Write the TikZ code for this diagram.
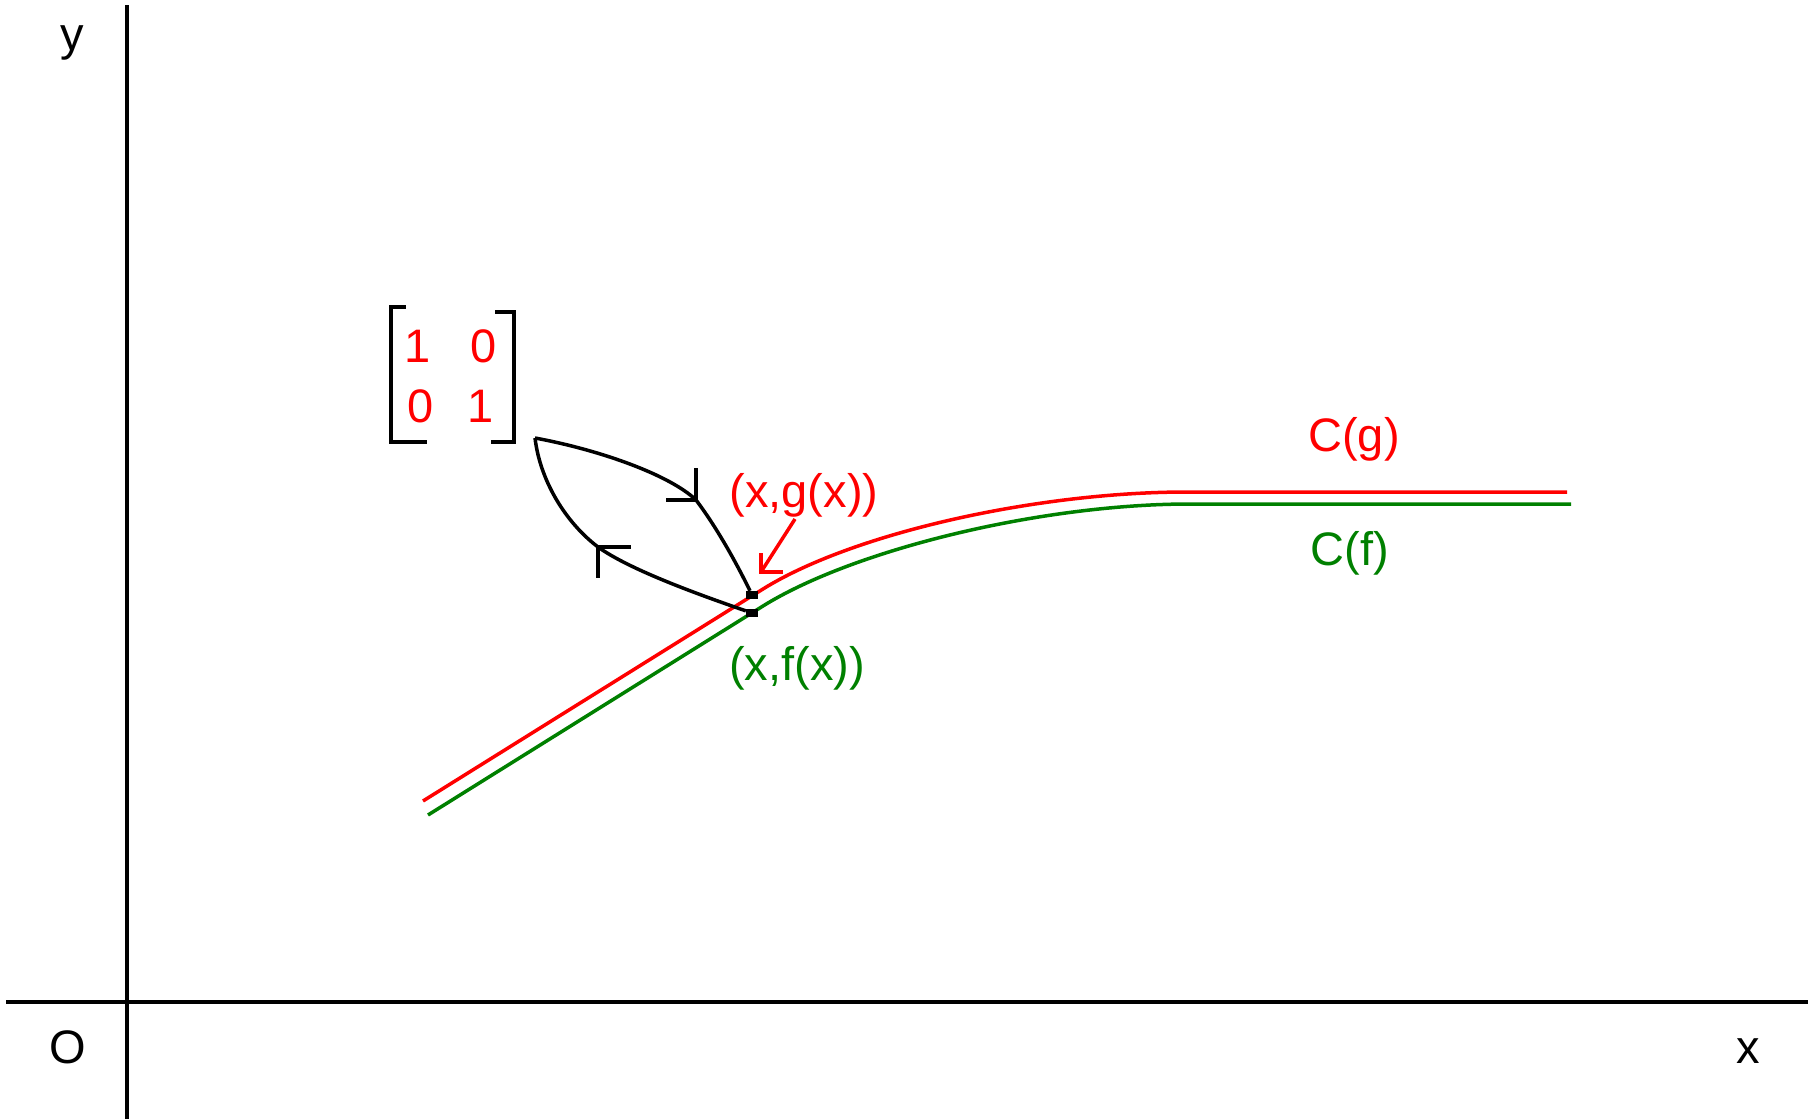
\documentclass[tikz,border=0pt]{standalone}
\usepackage{fontspec}
\setmainfont{Liberation Sans}
\definecolor{fgreen}{RGB}{0,128,0}
\tikzset{
  lbl/.style={font=\fontsize{47}{56}\selectfont, inner sep=0pt, anchor=base},
  ln/.style={line width=3.5pt},
  dotbox/.style={fill, minimum width=12pt, minimum height=8pt, inner sep=0pt}
}
\begin{document}
\begin{tikzpicture}[x=1pt,y=-1pt]
  \useasboundingbox (0,0) rectangle (1818,1119);
  \draw[line width=4pt] (6,1002) -- (1808,1002);
  \draw[line width=4pt] (127,5) -- (127,1119);
  \node[lbl] (ylab) at (72,50) {y};
  \node[lbl] (olab) at (68,1063) {O};
  \node[lbl] (xlab) at (1748,1063) {x};
  % matrix
  \draw[line width=4pt] (405.5,307) -- (390.7,307) -- (390.7,442) -- (427,442);
  \draw[line width=4pt] (495,312) -- (514,312) -- (514,442) -- (490.5,442);
  \node[lbl, red] (a11) at (418,362) {1};
  \node[lbl, red] (a12) at (484,362) {0};
  \node[lbl, red] (a21) at (421,422) {0};
  \node[lbl, red] (a22) at (481,422) {1};
  % curves
  \draw[ln, red] (423,801) -- (763,589) .. controls (853,533) and (1037,492) .. (1187,492) -- (1567,492);
  \draw[ln, fgreen] (428,815) -- (763,606) .. controls (853,550) and (1040,504) .. (1190,504) -- (1571,504);
  \node[lbl, red] (cg) at (1354,451) {C(g)};
  \node[lbl, fgreen] (cf) at (1350,565) {C(f)};
  \node[lbl, red] (glab) at (804,507) {(x,g(x))};
  \node[lbl, fgreen] (flab) at (797,680) {(x,f(x))};
  \node[dotbox] (gpt) at (752,595) {};
  \node[dotbox] (fpt) at (752,613) {};
  \coordinate (mc) at (535,438);
  \coordinate (ua) at (696,500);
  \coordinate (la) at (598,547);
  \coordinate (gfrom) at (795,519);
  \coordinate (gtip) at (761,572);
  % arrows
  \draw[ln] (mc) .. controls (600,450) and (670,475) .. (ua) .. controls (715,525) and (735,560) .. (gpt);
  \draw[ln] (696,468) -- (ua) -- (665.5,500);
  \draw[ln] (fpt) .. controls (700,595) and (630,570) .. (la) .. controls (565,522) and (540,480) .. (mc);
  \draw[ln] (630.7,547) -- (la) -- (598,578);
  \draw[ln, red] (gfrom) -- (gtip);
  \draw[ln, red] (761,553) -- (gtip) -- (783,572);
\end{tikzpicture}
\end{document}
